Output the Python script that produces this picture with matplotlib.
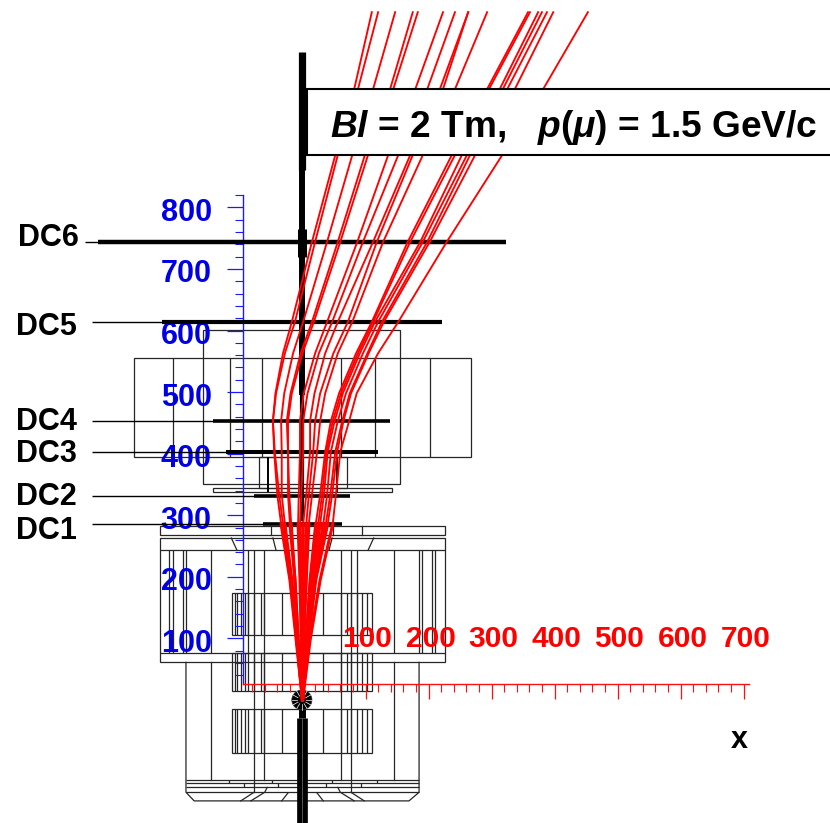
import math
import matplotlib
matplotlib.use("Agg")
import matplotlib.pyplot as plt
from matplotlib.patches import Rectangle, Circle
from matplotlib.transforms import ScaledTranslation

plt.rcParams['font.family'] = ['Liberation Sans', 'DejaVu Sans']
plt.rcParams['mathtext.fontset'] = 'custom'
plt.rcParams['mathtext.rm'] = 'Liberation Sans:bold'
plt.rcParams['mathtext.it'] = 'Liberation Sans:italic:bold'
plt.rcParams['mathtext.bf'] = 'Liberation Sans:bold'

# ---- data (all in mm, the chart's own units) ----
track_y = [0, 97, 195, 286, 333, 403, 453, 498, 563, 614, 744, 885, 992, 1117]
track_x = [
    [0, -10, -20, -34, -40, -45, -47, -43, -31, -17, 15, 52, 82, 110],
    [0, -9, -18, -31, -37, -44, -47, -42, -28, -12, 20, 56, 88, 120],
    [0, -9, -17, -28, -33, -33, -34, -29, -15, 1, 39, 79, 112, 147],
    [0, -7, -12, -20, -23, -23, -25, -19, -3, 15, 56, 99, 139, 175],
    [0, -7, -12, -18, -21, -23, -23, -17, 0, 18, 60, 104, 144, 183],
    [0, -2, -4, -7, -6, -4, -4, 2, 20, 39, 87, 136, 179, 223],
    [0, -1, -2, -4, -2, 1, 1, 8, 26, 47, 96, 152, 198, 242],
    [0, 0, 1, 1, 6, 12, 12, 19, 36, 56, 112, 171, 218, 263],
    [0, 1, 4, 6, 10, 17, 20, 28, 49, 72, 118, 175, 223, 263],
    [0, 2, 6, 10, 15, 23, 28, 36, 56, 79, 128, 191, 242, 293],
    [0, 6, 12, 21, 28, 36, 45, 58, 85, 110, 167, 237, 293, 358],
    [0, 6, 13, 25, 31, 38, 48, 61, 88, 112, 171, 242, 296, 361],
    [0, 6, 15, 28, 34, 40, 51, 64, 91, 115, 187, 253, 313, 374],
    [0, 7, 18, 33, 39, 45, 56, 69, 96, 120, 191, 261, 318, 380],
    [0, 9, 20, 37, 44, 52, 63, 75, 103, 126, 198, 266, 325, 388],
    [0, 9, 21, 40, 47, 55, 65, 77, 105, 129, 202, 274, 337, 398],
    [0, 12, 28, 48, 53, 60, 74, 86, 120, 152, 229, 317, 382, 453],
]

dc_names = ['DC6', 'DC5', 'DC4', 'DC3', 'DC2', 'DC1']
dc_y = [744, 614, 453, 403, 331, 286]
dc_x0 = [-325, -223, -142, -121, -77, -63]
dc_x1 = [323, 221, 139, 120, 75, 63]
dc_lw = [3.2, 3.0, 2.6, 2.9, 2.6, 2.6]
dc_leader_x = [-345, -334, -334, -334, -334, -334]
dc_label_y = [750, 606, 451, 399, 330, 275]
dc_label_x = [-452, -455, -455, -455, -455, -455]

# rectangles: x0, x1, y0, y1
outline_boxes = [
    (-267, 267, 394, 555), (-158, 155, 351, 601), (-69, 71, 344, 394),
    (-142, 142, 338, 344), (-226, 226, 268, 282), (-226, 226, 61, 263),
    (-112, 110, 105, 173), (-112, 110, 14, 76), (-112, 110, -86, -15),
]
big_box_vlines = [-206, -115, -64, 61, 115, 202]
body_vlines = [-212, -206, -190, -185, -145, -87, -77, -61, 61, 77, 87, 145, 185, 190, 205, 210]
block_vlines = [-107, -104, -98, -91, -87, -77, -66, -61, -33, 33, 61, 71, 77, 87, 94, 102]
block_ranges = [(105, 173), (14, 76), (-86, -15)]
body_hlines = [243, 76]
band_y = [-130, -135, -142, -150]
band_ticks_a = [-117, -48, 47, 118]
band_ticks_b = [-93, -39, 37, 93]
body_outline_x = [-185, -185, -172, 169, 185, 185]
body_outline_y = [61, -150, -164, -164, -150, 61]
long_vlines = [(-145, -130), (145, -130), (-61, -130), (61, -130), (-77, -150), (77, -150)]
splay_lines = [
    ([-113, -104], [263, 243]), ([-47, -42], [263, 243]),
    ([47, 42], [263, 243]), ([113, 104], [263, 243]),
    ([-56, -60, -82], [-142, -150, -164]), ([56, 60, 82], [-142, -150, -164]),
    ([-77, -98], [-150, -164]), ([77, 98], [-150, -164]),
    ([-23, -33], [-151, -164]), ([23, 33], [-151, -164]),
    ([-50, -50], [268, 282]), ([48, 48], [268, 282]), ([94, 94], [268, 282]),
]
coil_ticks = [-55, 55]

beam_segments = [  # y0, y1, width in points
    (860, 1052, 5.2), (495, 860, 4.3), (720, 765, 6.5), (290, 495, 3.0), (100, 290, 1.0),
    (-200, -30, 7.7), (-30, -15, 5.0),
]
spoke_angles_deg = list(range(0, 360, 30))

x_major = [100, 200, 300, 400, 500, 600, 700]
x_minor = list(range(-80, 709, 20))
y_major = [100, 200, 300, 400, 500, 600, 700, 800]
y_minor = list(range(40, 821, 20))

title_text = r"$\mathit{Bl}$ = 2 Tm,   $\mathit{p}$($\mathit{\mu}$) = 1.5 GeV/c"

# ---- figure ----
fig = plt.figure(figsize=(8.30, 8.23), dpi=100)
ax = fig.add_axes([0, 0, 1, 1])
ax.set_xlim(-480.2, 837.3)
ax.set_ylim(-199.9, 1136.8)
ax.patch.set_visible(False)
for s in ['top', 'right']:
    ax.spines[s].set_visible(False)

GEO = '#262626'
LW = 0.9

for x0, x1, y0, y1 in outline_boxes:
    ax.add_patch(Rectangle((x0, y0), x1 - x0, y1 - y0, fill=False, ec=GEO, lw=LW, zorder=1))
ax.vlines(big_box_vlines, 394, 555, color=GEO, lw=LW, zorder=1)
ax.vlines(body_vlines, 76, 243, color=GEO, lw=LW, zorder=1)
ax.hlines(body_hlines, -226, 226, color=GEO, lw=LW, zorder=1)
for y0, y1 in block_ranges:
    ax.vlines(block_vlines, y0, y1, color=GEO, lw=LW, zorder=1)
ax.plot(body_outline_x, body_outline_y, color=GEO, lw=LW, zorder=1)
ax.hlines(band_y, -185, 185, color=GEO, lw=LW, zorder=1)
ax.vlines(band_ticks_a, band_y[0], band_y[1], color=GEO, lw=LW, zorder=1)
ax.vlines(band_ticks_b, band_y[1], band_y[2], color=GEO, lw=LW, zorder=1)
for x, y in long_vlines:
    ax.plot([x, x], [y, 76 if abs(x) < 100 else 61], color=GEO, lw=LW, zorder=1)
for xs, ys in splay_lines:
    ax.plot(xs, ys, color=GEO, lw=LW, zorder=1)
ax.vlines(coil_ticks, 338, 394, color='black', lw=1.4, zorder=1)

# beam pipe
for y0, y1, w in beam_segments:
    ax.plot([-1, -1], [y0, y1], color='black', lw=w, solid_capstyle='butt', zorder=2)
ax.plot([-1, -1], [-200, -30], color='#777777', lw=0.5, solid_capstyle='butt', zorder=2.1)

# target
ax.add_patch(Circle((-1, 0), 16, fc='black', ec='#333333', lw=0.5, zorder=2.2))
for a in spoke_angles_deg:
    c, s_ = math.cos(math.radians(a)), math.sin(math.radians(a))
    ax.plot([-1 + 7 * c, -1 + 16 * c], [7 * s_, 16 * s_], color='white', lw=0.5, zorder=2.3)

# drift chambers
for n, y, x0, x1, w, lx, ly, tx in zip(dc_names, dc_y, dc_x0, dc_x1, dc_lw, dc_leader_x, dc_label_y, dc_label_x):
    ax.plot([x0, x1], [y, y], color='black', lw=w, solid_capstyle='butt', zorder=3)
    ax.plot([lx, x0], [y, y], color='black', lw=1.0, solid_capstyle='butt', zorder=3)
    ax.text(tx, ly, n, fontsize=22, fontweight='bold', ha='left', va='center', color='black', zorder=6)

# tracks: the hits overlap near the target, so the inner part reads heavier
for xs in track_x:
    ax.plot(xs, track_y, color='#ff0000', lw=1.35, zorder=4, solid_joinstyle='round')
    ax.plot(xs[:4], track_y[:4], color='#ff0000', lw=2.2, zorder=4, solid_joinstyle='round')

# axes
ax.spines['left'].set_position(('data', -94.5))
ax.spines['left'].set_bounds(26, 820)
ax.spines['left'].set_color('#1a1aff')
ax.spines['left'].set_linewidth(1.0)
ax.spines['bottom'].set_position(('data', 26))
ax.spines['bottom'].set_bounds(-94.5, 708)
ax.spines['bottom'].set_color('#ff1010')
ax.spines['bottom'].set_linewidth(1.0)
ax.set_xticks(x_major)
ax.set_xticks(x_minor, minor=True)
ax.set_yticks(y_major)
ax.set_yticks(y_minor, minor=True)
ax.tick_params(axis='x', which='major', direction='out', length=11, width=0.9, color='#ff1010',
               labelcolor='#ff0000', labelsize=21.5, pad=-53.5)
ax.tick_params(axis='x', which='minor', direction='out', length=6, width=0.8, color='#ff1010')
ax.tick_params(axis='y', which='major', direction='out', length=11.5, width=0.9, color='#1a1aff',
               labelcolor='#0000e6', labelsize=22, pad=11)
ax.tick_params(axis='y', which='minor', direction='out', length=6, width=0.8, color='#1a1aff')
off_y = ScaledTranslation(0, -2 / 100, fig.dpi_scale_trans)
off_x = ScaledTranslation(2 / 100, 0, fig.dpi_scale_trans)
for lab in ax.get_xticklabels() + ax.get_yticklabels():
    lab.set_fontweight('bold')
for lab in ax.get_yticklabels():
    lab.set_transform(lab.get_transform() + off_y)
for lab in ax.get_xticklabels():
    lab.set_transform(lab.get_transform() + off_x)
    lab.set_zorder(5)

ax.text(694, -65, 'x', fontsize=22, fontweight='bold', ha='center', va='center', color='black')

# title box
ax.add_patch(Rectangle((7, 885), 840, 107, fc='white', ec='black', lw=1.5, zorder=7))
ax.text(431, 929, title_text, fontsize=26.7, fontweight='bold', ha='center', va='center', color='black', zorder=8)

fig.savefig('out.png', dpi=100)
